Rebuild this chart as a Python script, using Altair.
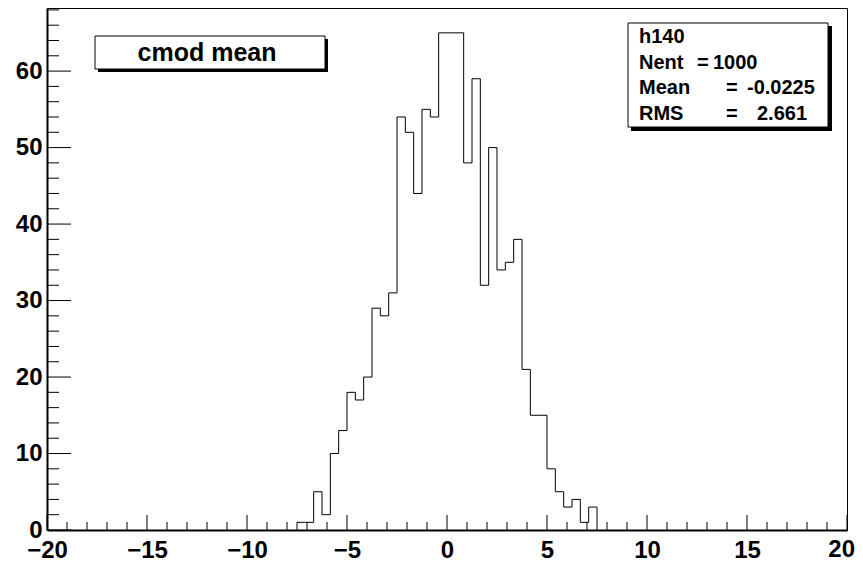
import altair as alt
import pandas as pd

# ---- data (h140, 96 bins on [-20, 20]) ----
x_min, x_max, n_bins = -20.0, 20.0, 96
first_bin = 30  # index of first non-empty bin (left edge -7.5)
counts = [1, 1, 5, 2, 10, 13, 18, 17, 20, 29, 28, 31,
          54, 52, 44, 55, 54,
          65, 65, 65,
          48, 59, 32, 50, 34, 35, 38,
          21, 15, 15, 8, 5, 3, 4, 1, 3]
x_major = [-20, -15, -10, -5, 0, 5, 10, 15, 20]
x_minor = [v for v in range(-19, 20) if v % 5 != 0]
y_major = [0, 10, 20, 30, 40, 50, 60]
y_minor = [v for v in range(2, 69, 2) if v % 10 != 0]
y_top = 68.25
legend_title = "cmod mean"
hist_name = "h140"
stat_names = ["Nent", "Mean", "RMS"]
stat_values = ["1000", "-0.0225", "2.661"]

W, H = 800, 522
FONT = "Liberation Sans"

# build step outline from bin edges
bw = (x_max - x_min) / n_bins
pts = []
lo0 = x_min + first_bin * bw
pts.append((lo0, 0))
for i, c in enumerate(counts):
    lo = x_min + (first_bin + i) * bw
    hi = lo + bw
    pts.append((lo, c))
    pts.append((hi, c))
pts.append((x_min + (first_bin + len(counts)) * bw, 0))
path = pd.DataFrame({"x": [p[0] for p in pts], "y": [p[1] for p in pts], "o": range(len(pts))})

xs = alt.Scale(domain=[x_min, x_max], nice=False, zero=False)
ys = alt.Scale(domain=[0, y_top], nice=False, zero=True)

lab = dict(labelFont=FONT, labelFontWeight="bold", labelFontSize=24, labelColor="black",
           labelFlush=False, labelOverlap=False, format="d")

hist = alt.Chart(path).mark_line(color="black", strokeWidth=1, interpolate="linear").encode(
    x=alt.X("x:Q", scale=xs, title=None,
            axis=alt.Axis(values=x_major[:-1], ticks=False, grid=False, domain=True,
                          domainColor="black", domainWidth=2, labelPadding=8, **lab)),
    y=alt.Y("y:Q", scale=ys, title=None,
            axis=alt.Axis(values=y_major, ticks=False, grid=False, domain=True,
                          domainColor="black", domainWidth=2, labelPadding=5, **lab)),
    order="o:Q",
)

# last x label, pulled in so that it stays inside the page
last_lab = alt.Chart(pd.DataFrame({"v": x_major[-1:]})).mark_text(
    font=FONT, fontWeight="bold", fontSize=24, color="black", align="right",
    baseline="top", dx=8).encode(
    x=alt.X("v:Q", scale=xs), y=alt.value(H + 8), text=alt.Text("v:Q", format="d"))

ymaj = alt.Chart(pd.DataFrame({"v": y_major})).mark_rule(color="black", strokeWidth=1).encode(
    y=alt.Y("v:Q", scale=ys), x=alt.value(0), x2=alt.value(24))
ymin = alt.Chart(pd.DataFrame({"v": y_minor})).mark_rule(color="black", strokeWidth=1).encode(
    y=alt.Y("v:Q", scale=ys), x=alt.value(0), x2=alt.value(12))
xmaj = alt.Chart(pd.DataFrame({"v": x_major})).mark_rule(color="black", strokeWidth=1).encode(
    x=alt.X("v:Q", scale=xs), y=alt.value(H), y2=alt.value(H - 15))
xmin = alt.Chart(pd.DataFrame({"v": x_minor})).mark_rule(color="black", strokeWidth=1).encode(
    x=alt.X("v:Q", scale=xs), y=alt.value(H), y2=alt.value(H - 8))

one = pd.DataFrame({"a": [0]})

# title box "cmod mean"
t_shadow = alt.Chart(one).mark_rect(color="black").encode(
    x=alt.value(51), x2=alt.value(281), y=alt.value(31), y2=alt.value(64))
t_box = alt.Chart(one).mark_rect(fill="white", stroke="black", strokeWidth=1).encode(
    x=alt.value(48), x2=alt.value(278), y=alt.value(28), y2=alt.value(61))
t_text = alt.Chart(pd.DataFrame({"t": [legend_title]})).mark_text(
    font=FONT, fontWeight="bold", fontSize=25, color="black", align="center", baseline="middle").encode(
    x=alt.value(160), y=alt.value(45), text="t:N")

# stats box
s_shadow = alt.Chart(one).mark_rect(color="black").encode(
    x=alt.value(584), x2=alt.value(785), y=alt.value(18), y2=alt.value(123))
s_box = alt.Chart(one).mark_rect(fill="white", stroke="black", strokeWidth=1).encode(
    x=alt.value(581), x2=alt.value(781), y=alt.value(15), y2=alt.value(119))

stxt = dict(font=FONT, fontWeight="bold", fontSize=20, color="black", align="left", baseline="alphabetic")
s_layers = [alt.Chart(pd.DataFrame({"t": [hist_name]})).mark_text(**stxt).encode(
    x=alt.value(592), y=alt.value(35), text="t:N")]
eq_x = [650, 679, 679]
val_x = [666, 700, 710]
for i, (nm, vv) in enumerate(zip(stat_names, stat_values)):
    yy = 35 + 25.5 * (i + 1)
    s_layers.append(alt.Chart(pd.DataFrame({"t": [nm]})).mark_text(**stxt).encode(
        x=alt.value(592), y=alt.value(yy), text="t:N"))
    s_layers.append(alt.Chart(pd.DataFrame({"t": ["="]})).mark_text(**stxt).encode(
        x=alt.value(eq_x[i]), y=alt.value(yy), text="t:N"))
    s_layers.append(alt.Chart(pd.DataFrame({"t": [vv]})).mark_text(**stxt).encode(
        x=alt.value(val_x[i]), y=alt.value(yy), text="t:N"))

chart = alt.layer(
    ymaj, ymin, xmaj, xmin, hist, last_lab,
    t_shadow, t_box, t_text, s_shadow, s_box, *s_layers
).properties(
    width=W, height=H,
    autosize=alt.AutoSizeParams(type="none"),
    padding={"left": 39, "top": 0, "right": 8, "bottom": 29},
    background="white",
).configure_view(stroke="black", strokeWidth=1)

chart.save("out.html", embed_options={"renderer": "svg", "actions": False})
